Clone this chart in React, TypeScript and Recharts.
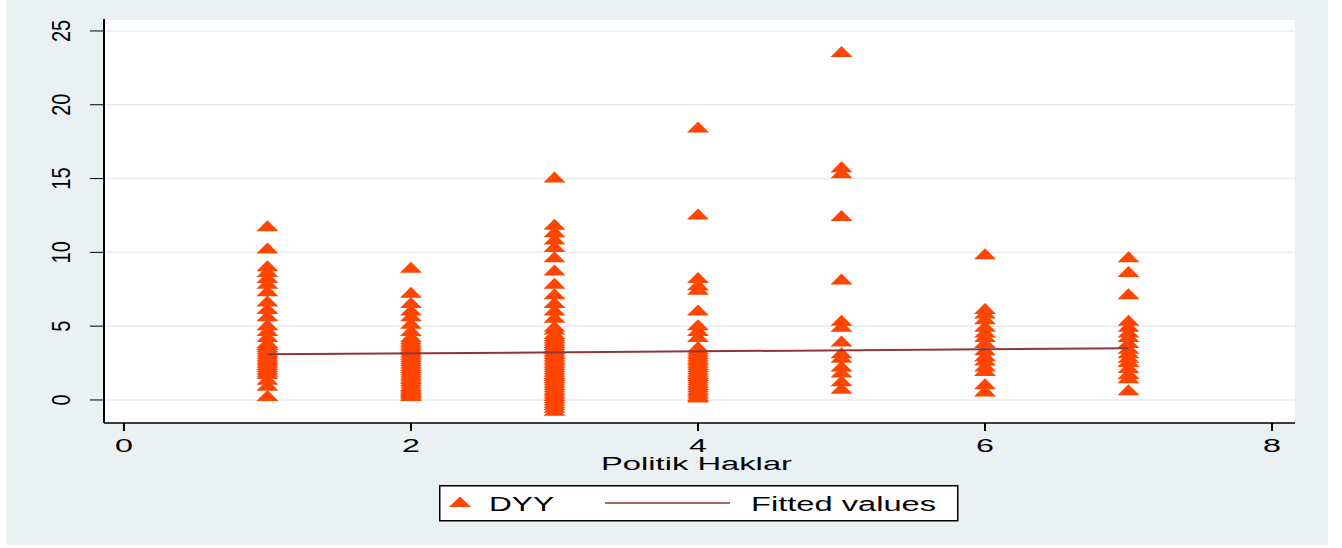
import React from 'react';
import { ScatterChart, Scatter, XAxis, YAxis, CartesianGrid, Legend } from 'recharts';

// Politik Haklar categories and DYY values
const categories = [1, 2, 3, 4, 5, 6, 7];
const dyy1 = [11.8, 10.3, 9.1, 8.7, 8.3, 7.9, 7.4, 6.7, 6.2, 5.7, 5.1, 4.7, 4.3, 3.9, 3.75, 3.6, 3.45, 3.3, 3.15, 3.0, 2.85, 2.7, 2.55, 2.4, 2.25, 2.1, 1.95, 1.8, 1.4, 1.0, 0.3];
const dyy2 = [9.0, 7.3, 6.6, 6.1, 5.7, 5.2, 4.7, 4.3, 4.15, 4.0, 3.85, 3.7, 3.55, 3.4, 3.25, 3.1, 2.95, 2.8, 2.65, 2.5, 2.35, 2.2, 2.05, 1.9, 1.75, 1.6, 1.45, 1.3, 1.15, 1.0, 0.9, 0.8, 0.7, 0.6, 0.5, 0.4, 0.3];
const dyy3 = [15.1, 11.9, 11.4, 10.9, 10.4, 9.7, 8.8, 7.9, 7.2, 6.6, 6.1, 5.6, 5.0, 4.8, 4.5, 4.35, 4.2, 4.05, 3.9, 3.75, 3.6, 3.45, 3.3, 3.15, 3.0, 2.85, 2.7, 2.55, 2.4, 2.25, 2.1, 1.95, 1.8, 1.65, 1.5, 1.35, 1.2, 1.05, 0.9, 0.75, 0.6, 0.45, 0.3, 0.15, 0.0, -0.15, -0.3, -0.5, -0.7];
const dyy4 = [18.5, 12.6, 8.3, 7.8, 7.5, 6.1, 5.1, 4.7, 4.3, 3.6, 3.45, 3.3, 3.15, 3.0, 2.85, 2.7, 2.55, 2.4, 2.25, 2.1, 1.95, 1.8, 1.65, 1.5, 1.35, 1.2, 1.05, 0.9, 0.75, 0.6, 0.45, 0.3, 0.2];
const dyy5 = [23.6, 15.8, 15.4, 12.5, 8.2, 5.4, 5.0, 4.0, 3.2, 2.9, 2.3, 1.9, 1.3, 0.8];
const dyy6 = [9.9, 6.2, 5.9, 5.5, 5.0, 4.6, 4.3, 3.9, 3.4, 3.0, 2.7, 2.3, 2.0, 1.1, 0.6];
const dyy7 = [9.7, 8.7, 7.2, 5.4, 5.0, 4.6, 4.3, 3.9, 3.5, 3.2, 2.9, 2.6, 2.2, 1.8, 1.5, 0.7];
const dyyByCategory = [dyy1, dyy2, dyy3, dyy4, dyy5, dyy6, dyy7];

// linear fit end points
const fittedX = [1, 7];
const fittedY = [3.09, 3.5];

const xTicks = [0, 2, 4, 6, 8];
const yTicks = [0, 5, 10, 15, 20, 25];

const points = categories.flatMap((c, i) => dyyByCategory[i].map((v) => ({ x: c, y: v })));
const fitted = fittedX.map((x, i) => ({ x, y: fittedY[i] }));

const ORANGE = '#ff4500';
const MAROON = '#90353b';
const BG = '#eaf1f3';
const FONT = '"Liberation Sans", Arial, Helvetica, sans-serif';

const Triangle = (props: any) => {
  const { cx, cy } = props;
  if (cx == null || cy == null) return <g />;
  return (
    <polygon
      points={`${cx - 11},${cy + 5.5} ${cx + 11},${cy + 5.5} ${cx},${cy - 5.5}`}
      fill={ORANGE}
    />
  );
};

const XTick = ({ x, y, payload }: any) => (
  <text
    transform={`translate(${x},${y + 19}) scale(1.7,1)`}
    textAnchor="middle"
    fontSize={19}
    fontFamily={FONT}
    fill="#000"
  >
    {payload.value}
  </text>
);

const YTick = ({ x, y, payload }: any) => (
  <text
    transform={`translate(${x - 18},${y}) rotate(-90) scale(1,1.26)`}
    textAnchor="middle"
    fontSize={20}
    fontFamily={FONT}
    fill="#000"
  >
    {payload.value}
  </text>
);

const XTitle = (props: any) => {
  const vb = props.viewBox ?? { x: 104, y: 423, width: 1191 };
  return (
    <text
      x={vb.x + vb.width / 2 - 3}
      y={vb.y + 47}
      textAnchor="middle"
      fontSize={18}
      fontFamily={FONT}
      fill="#000"
      textLength={191}
      lengthAdjust="spacingAndGlyphs"
    >
      Politik Haklar
    </text>
  );
};

const LegendBox = ({ payload }: any) => {
  const items = payload ?? [];
  const dot = items.find((p: any) => p.type !== 'line');
  const line = items.find((p: any) => p.type === 'line');
  return (
    <svg width={520} height={37} style={{ display: 'block' }}>
      <rect x={0.75} y={0.75} width={518} height={35} fill="#fff" stroke="#000" strokeWidth={1.5} />
      <polygon points="10,22 32,22 21,11.5" fill={ORANGE} />
      <text x={50} y={26} fontSize={20} fontFamily={FONT} fill="#000" textLength={65} lengthAdjust="spacingAndGlyphs">
        {dot ? dot.value : 'DYY'}
      </text>
      <line x1={166} y1={18} x2={291} y2={18} stroke={MAROON} strokeWidth={1.5} />
      <text x={312} y={26} fontSize={20} fontFamily={FONT} fill="#000" textLength={185} lengthAdjust="spacingAndGlyphs">
        {line ? line.value : 'Fitted values'}
      </text>
    </svg>
  );
};

export default function App() {
  return (
    <div style={{ position: 'absolute', left: 0, top: 0, width: 1342, height: 548, background: '#fff' }}>
      <div style={{ position: 'absolute', left: 6, top: 0, width: 1322, height: 545, background: BG }} />
      <div style={{ position: 'absolute', left: 0, top: 0 }}>
        <ScatterChart width={1342} height={548} margin={{ top: 19, right: 47, bottom: 65, left: 0 }}>
          <CartesianGrid vertical={false} stroke="#e4ecef" strokeWidth={1.5} fill="#fff" />
          <XAxis
            type="number"
            dataKey="x"
            domain={[-0.139, 8.16]}
            ticks={xTicks}
            height={60}
            tickSize={8}
            tickMargin={2}
            axisLine={{ stroke: '#000', strokeWidth: 1.3 }}
            tickLine={{ stroke: '#000', strokeWidth: 2 }}
            tick={<XTick />}
            label={{ content: <XTitle /> }}
          />
          <YAxis
            type="number"
            dataKey="y"
            domain={[-1.56, 25.81]}
            ticks={yTicks}
            width={104}
            tickSize={14}
            tickMargin={2}
            axisLine={{ stroke: '#000', strokeWidth: 2 }}
            tickLine={{ stroke: '#000', strokeWidth: 1 }}
            tick={<YTick />}
          />
          <Legend
            layout="horizontal"
            verticalAlign="middle"
            align="center"
            wrapperStyle={{ position: 'absolute', left: 439, top: 485, width: 520, height: 37 }}
            content={<LegendBox />}
          />
          <Scatter
            name="DYY"
            data={points}
            fill={ORANGE}
            shape={<Triangle />}
            legendType="triangle"
            isAnimationActive={false}
          />
          <Scatter
            name="Fitted values"
            data={fitted}
            fill={MAROON}
            line={{ stroke: MAROON, strokeWidth: 2 }}
            shape={() => <g />}
            legendType="line"
            isAnimationActive={false}
          />
        </ScatterChart>
      </div>
    </div>
  );
}
